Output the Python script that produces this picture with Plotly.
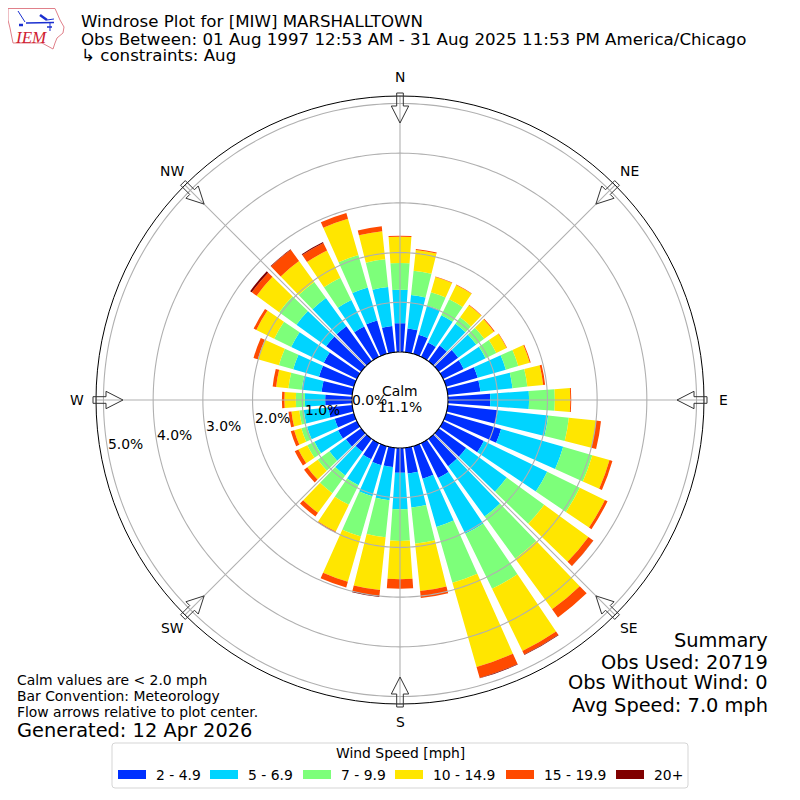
import math
import plotly.graph_objects as go

# Windrose, percent of obs per direction and speed bin
directions = list(range(0, 360, 10))
speed_labels = ["2 - 4.9", "5 - 6.9", "7 - 9.9", "10 - 14.9", "15 - 19.9", "20+"]
colors = ["#0030ff", "#00d4ff", "#7dff7a", "#ffe600", "#ff4a00", "#800000"]

speed_2_5 = [.58, .48, .40, .32, .39, .48, .46, .66, .66, .85, 1.01, 1.15, .91, .68, .68, .78, .68, .52,
             .50, .39, .40, .36, .32, .38, .42, .40, .48, .54, .62, .73, .74, .87, .87, .68, .70, .53]
speed_5_7 = [.67, .68, .61, .61, .54, .45, .49, .59, .65, .78, 1.02, 1.30, 1.42, 1.01, 1.25, 1.25, 1.01, .69,
             .73, .67, .65, .58, .59, .41, .53, .58, .50, .41, .40, .54, .73, .74, .70, .59, .69, .79]
speed_7_10 = [.54, .49, .28, .36, .16, .20, .24, .26, .30, .52, .42, .61, .73, .93, 1.05, 1.23, 1.17, .73,
              .64, .75, .84, .44, .44, .29, .16, .12, .09, .18, .27, .30, .38, .43, .40, .50, .68, .56]
speed_10_15 = [.53, .42, .32, .32, .30, .24, .23, .24, .32, .31, .55, .36, .56, 1.10, 1.26, 1.39, 1.76, .96,
               .77, 1.07, .95, .60, .49, .26, .20, .15, .16, .23, .25, .44, .40, .56, .52, .61, .76, .57]
speed_15_20 = [.02, .02, .01, .01, .01, .02, .01, .02, .04, .02, .10, .06, .06, .12, .20, .08, .23, .14,
               .19, .12, .12, .02, .09, .08, .08, .07, .06, .05, .07, .09, .06, .12, .28, .17, .12, .10]
speed_20 = [0, 0, 0, 0, 0, 0, 0, 0, 0, 0, 0, 0, 0, .005, 0, .01, .01, 0,
            0, .02, 0, 0, 0, 0, 0, 0, 0, 0, 0, 0, 0, .04, .01, .02, 0, 0]
speed_values = [speed_2_5, speed_5_7, speed_7_10, speed_10_15, speed_15_20, speed_20]

compass_angles = [0, 45, 90, 135, 180, 225, 270, 315]
compass_labels = ["N", "NE", "E", "SE", "S", "SW", "W", "NW"]
radial_ticks = [0, 1, 2, 3, 4, 5]
radial_tick_labels = ["0.0%", "1.0%", "2.0%", "3.0%", "4.0%", "5.0%"]

title_lines = ["Windrose Plot for [MIW] MARSHALLTOWN",
               "Obs Between: 01 Aug 1997 12:53 AM - 31 Aug 2025 11:53 PM America/Chicago",
               "\u21b3 constraints: Aug"]
note_lines = ["Calm values are < 2.0 mph", "Bar Convention: Meteorology", "Flow arrows relative to plot center."]
summary_lines = ["Summary", "Obs Used: 20719", "Obs Without Wind: 0", "Avg Speed: 7.0 mph"]

FONT = "DejaVu Sans"
R_MIN, R_MAX = -0.966, 5.15
GRID = "#b0b0b0"
# the page body has an 8px margin, so the figure is 784 wide and starts at (8, 8)
SIZE = 784
PAGE_MARGIN = 8


# pixel position in the browser window -> paper fraction
def px(x):
    return (x - PAGE_MARGIN) / SIZE


def py(y):
    return 1 - (y - PAGE_MARGIN) / SIZE


def path_from(points, close=True):
    s = "M" + " L".join(f"{px(x):.5f},{py(y):.5f}" for x, y in points)
    return s + (" Z" if close else "")


def label(text, x, y, size=13.9, anchor="left", color="black", family=FONT):
    return dict(text=text, x=px(x), y=py(y), xref="paper", yref="paper", showarrow=False,
                xanchor=anchor, yanchor="middle", align=anchor, borderpad=0,
                font=dict(family=family, size=size, color=color))


def arrow_shape(angle):
    a = math.radians(angle)
    local = [(307, -3.3), (294, -3.3), (294, -8.7), (277, 0), (294, 8.7), (294, 3.3), (307, 3.3)]
    pts = [(400 + r * math.sin(a) + w * math.cos(a), 400 - r * math.cos(a) + w * math.sin(a)) for r, w in local]
    return dict(type="path", path=path_from(pts), xref="paper", yref="paper",
                line=dict(color="#333333", width=1), fillcolor="rgba(255,255,255,0)")


def rounded_box(x0, y0, x1, y1, c=3):
    return (f"M{px(x0 + c)},{py(y0)} L{px(x1 - c)},{py(y0)} Q{px(x1)},{py(y0)} {px(x1)},{py(y0 + c)} "
            f"L{px(x1)},{py(y1 - c)} Q{px(x1)},{py(y1)} {px(x1 - c)},{py(y1)} "
            f"L{px(x0 + c)},{py(y1)} Q{px(x0)},{py(y1)} {px(x0)},{py(y1 - c)} "
            f"L{px(x0)},{py(y0 + c)} Q{px(x0)},{py(y0)} {px(x0 + c)},{py(y0)} Z")


fig = go.Figure()

for name, color, values in zip(speed_labels, colors, speed_values):
    fig.add_trace(go.Barpolar(r=values, theta=directions, width=8, name=name,
                              marker=dict(color=color, line=dict(width=0)), showlegend=False))

# grid goes on top of the bars, so it is drawn as traces
ring_theta = list(range(0, 361))
for tick in radial_ticks:
    ring_color = "black" if tick == 0 else GRID
    fig.add_trace(go.Scatterpolar(r=[tick] * len(ring_theta), theta=ring_theta, mode="lines",
                                  line=dict(color=ring_color, width=1.1), showlegend=False, hoverinfo="skip"))
for angle in compass_angles:
    fig.add_trace(go.Scatterpolar(r=[0, R_MAX], theta=[angle, angle], mode="lines",
                                  line=dict(color=GRID, width=1.1), showlegend=False, hoverinfo="skip"))

shapes = [arrow_shape(a) for a in compass_angles]
annotations = []

# compass and radial tick labels
compass_pos = [(400, 77), (629, 171), (723, 400), (629, 628), (400, 722), (172, 628), (77, 400), (172, 171)]
for text, (x, y) in zip(compass_labels, compass_pos):
    annotations.append(label(text, x, y, anchor="center"))
tick_pos = [(369, 400), (322, 410), (272, 418), (223, 426), (174, 435), (125, 444)]
for text, (x, y) in zip(radial_tick_labels, tick_pos):
    annotations.append(label(text, x, y, anchor="center"))

annotations.append(label("Calm", 400, 391, anchor="center"))
annotations.append(label("11.1%", 400, 407, anchor="center"))

# header, notes, summary
for text, y in zip(title_lines, [21, 39, 55]):
    annotations.append(label(text, 79.5, y, size=16.67))
for text, y in zip(note_lines, [680, 696, 712]):
    annotations.append(label(text, 15.5, y))
annotations.append(label("Generated: 12 Apr 2026", 15.5, 730, size=19.4))
for text, y in zip(summary_lines, [640, 662, 682, 705]):
    annotations.append(label(text, 768.5, y, size=19.4, anchor="right"))

# legend box, drawn by hand for the wide swatches
shapes.append(dict(type="path", path=rounded_box(112, 743, 688, 788), xref="paper", yref="paper",
                   line=dict(color="#d5d5d5", width=1), fillcolor="white"))
annotations.append(label("Wind Speed [mph]", 400, 753, size=13.9, anchor="center"))
swatch_x = [118, 210, 303, 395, 506, 616]
text_x = [155, 247, 340, 432, 543, 653]
for name, color, sx, tx in zip(speed_labels, colors, swatch_x, text_x):
    shapes.append(dict(type="rect", xref="paper", yref="paper", x0=px(sx), x1=px(sx + 28), y0=py(770), y1=py(779),
                       line=dict(width=0), fillcolor=color))
    annotations.append(label(name, tx - 0.5, 774.5, size=13.9))

# IEM logo
outline = [(8, 8.5), (55, 8.5), (57, 13), (60, 20), (64, 27), (63, 33), (57, 38), (55, 43), (53, 49),
           (42, 43), (13, 43), (12, 38), (10, 28), (8, 20)]
shapes.append(dict(type="path", path=path_from(outline), xref="paper", yref="paper",
                   line=dict(color="#e0808a", width=1), fillcolor="white"))
for pts, w in [([(26, 23), (54, 22.5)], 1.5), ([(18, 11), (25, 22)], 1), ([(40, 15), (47, 20)], 2.5),
               ([(50, 22), (50, 31)], 1), ([(19, 25), (23, 25)], 2.5), ([(47, 27), (52, 27)], 1.5),
               ([(47, 20), (54, 19)], 1)]:
    shapes.append(dict(type="path", path=path_from(pts, close=False), xref="paper", yref="paper",
                       line=dict(color="#1a2fd0", width=w)))
annotations.append(label("<i>IEM</i>", 30.5, 38, size=17, anchor="center", color="#d02030", family="Liberation Serif"))

fig.update_layout(
    width=SIZE, height=SIZE,
    margin=dict(l=0, r=0, t=0, b=0),
    paper_bgcolor="white",
    showlegend=False,
    polar=dict(
        domain=dict(x=[px(96), px(704)], y=[py(704), py(96)]),
        bgcolor="white",
        barmode="stack",
        bargap=0,
        angularaxis=dict(direction="clockwise", rotation=90, tickmode="array", tickvals=compass_angles,
                         showticklabels=False, ticks="", showgrid=False, linecolor="black", linewidth=1),
        radialaxis=dict(range=[R_MIN, R_MAX], visible=False),
    ),
    shapes=shapes,
    annotations=annotations,
)

fig.write_html("out.html")
